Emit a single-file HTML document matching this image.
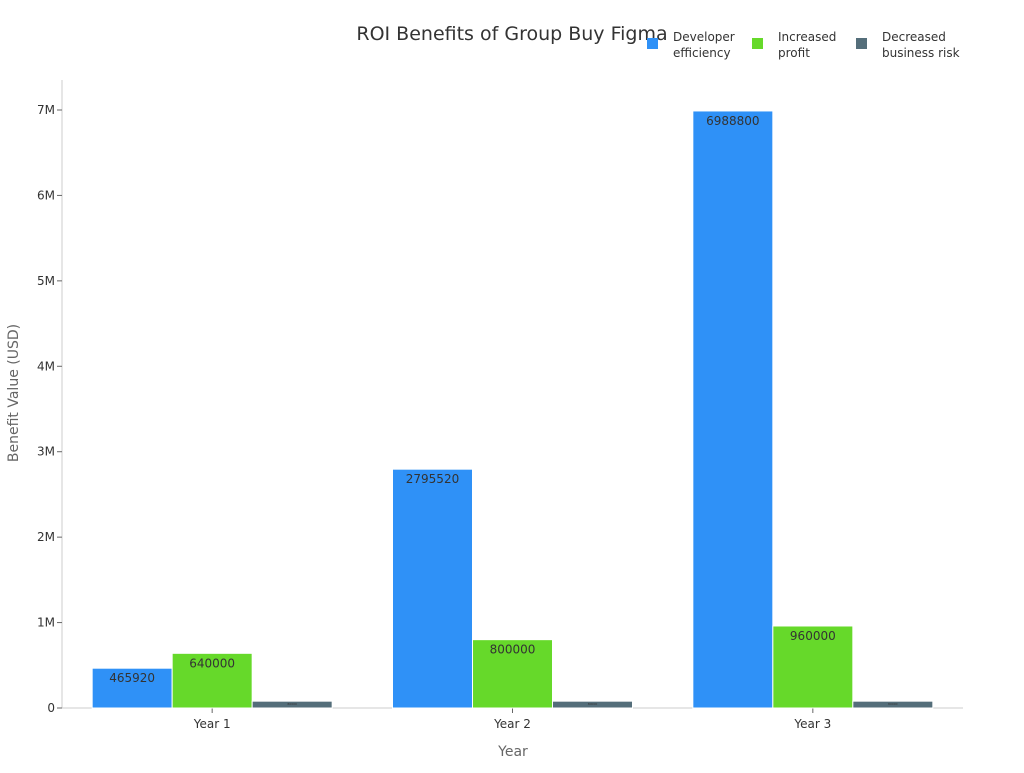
<!DOCTYPE html>
<html><head><meta charset="utf-8"><style>
body{margin:0;background:#fff;}
svg{font-family:"DejaVu Sans","Liberation Sans",sans-serif;}
</style></head><body>
<svg id="chart" width="1024" height="768">
<text x="512" y="40" font-size="19" fill="#333" text-anchor="middle">ROI Benefits of Group Buy Figma</text>
<g>
<rect x="647" y="38" width="11" height="11" fill="#2f91f7"/>
<text x="673" y="41" font-size="12" fill="#333"><tspan x="673">Developer</tspan><tspan x="673" dy="16">efficiency</tspan></text>
<rect x="752" y="38" width="11" height="11" fill="#66d92a"/>
<text x="778" y="41" font-size="12" fill="#333"><tspan x="778">Increased</tspan><tspan x="778" dy="16">profit</tspan></text>
<rect x="856" y="38" width="11" height="11" fill="#546e7a"/>
<text x="882" y="41" font-size="12" fill="#333"><tspan x="882">Decreased</tspan><tspan x="882" dy="16">business risk</tspan></text>
</g>
<text transform="translate(18,393) rotate(-90)" font-size="14" fill="#666" text-anchor="middle">Benefit Value (USD)</text>
<text x="513" y="756" font-size="14" fill="#666" text-anchor="middle">Year</text>
<g id="plot"></g>
</svg>
<script>
const categories=["Year 1","Year 2","Year 3"];
const developerEfficiency=[465920,2795520,6988800];
const increasedProfit=[640000,800000,960000];
const decreasedRisk=[80000,80000,80000];
const yTicks=[0,1000000,2000000,3000000,4000000,5000000,6000000,7000000];
const yTickLabels=["0","1M","2M","3M","4M","5M","6M","7M"];
const seriesNames=["developer","profit","risk"];
const NS="http://www.w3.org/2000/svg";
const plot=document.getElementById('plot');
const x0=62,x1=963,yBase=708,yTop7=110;
const y=v=>yBase-(v/7000000)*(yBase-yTop7);
const band=(x1-x0)/categories.length;
function mk(t,a){const e=document.createElementNS(NS,t);for(const k in a)e.setAttribute(k,a[k]);plot.appendChild(e);return e;}
let e=mk('line',{x1:x0,y1:80,x2:x0,y2:yBase,stroke:'#ccc'});


e=mk('line',{x1:x0,y1:yBase,x2:x1,y2:yBase,stroke:'#ccc'});


yTicks.forEach((t,i)=>{
 let l=mk('line',{x1:x0-5,y1:y(t),x2:x0,y2:y(t),stroke:'#666'});
 
 
 let tx=mk('text',{x:x0-7,y:y(t)+4,'font-size':12,fill:'#333','text-anchor':'end'});
 tx.textContent=yTickLabels[i];
 
 
});
const colors=["#2f91f7","#66d92a","#546e7a"];
const series=[developerEfficiency,increasedProfit,decreasedRisk];
const bw=80;
categories.forEach((c,i)=>{
 const cx=x0+band*(i+0.5);
 let l=mk('line',{x1:cx,y1:yBase,x2:cx,y2:yBase+5,stroke:'#666'});
 
 
 let tx=mk('text',{x:cx,y:yBase+20,'font-size':12,fill:'#333','text-anchor':'middle'});
 tx.textContent=c;
 
 
 series.forEach((s,j)=>{
  const bx=cx-1.5*bw+j*bw, top=y(s[i]);
  let r=mk('rect',{x:bx,y:top,width:bw,height:yBase-top,fill:colors[j],stroke:'#fff','stroke-width':1});
  
  
  let lb=mk('text',{x:bx+bw/2,y:j==2?top+4:top+14,'font-size':j==2?3:12,fill:'#333','text-anchor':'middle'});
  lb.textContent=s[i];
  
  
 });
});
</script>
</body></html>
